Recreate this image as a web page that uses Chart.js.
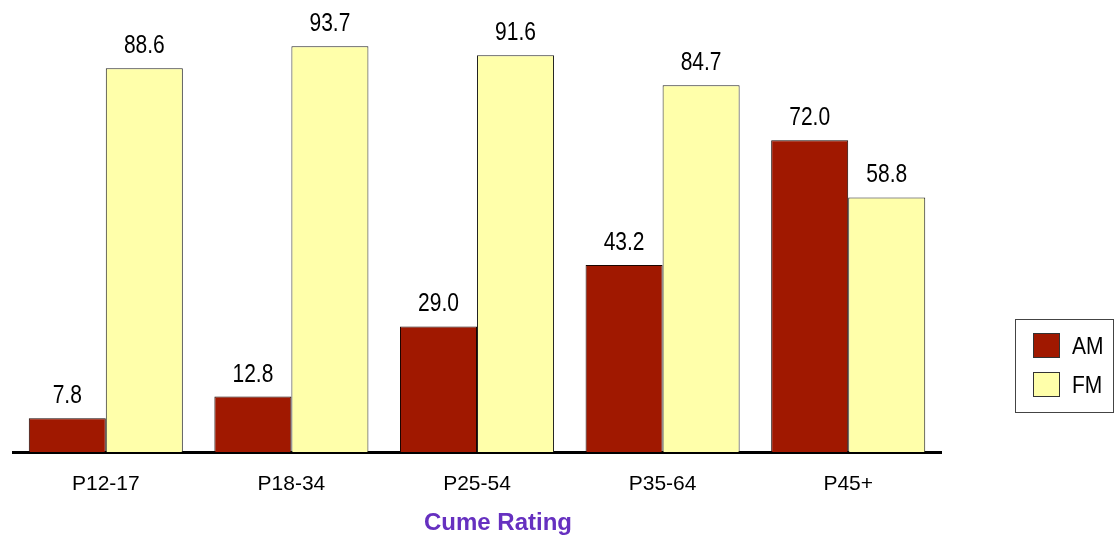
<!DOCTYPE html>
<html>
<head>
<meta charset="utf-8">
<script src="https://cdn.jsdelivr.net/npm/chart.js@4/dist/chart.umd.min.js"></script>
<style>
html,body{margin:0;padding:0;background:#fff;}
#wrap{width:1116px;height:540px;position:relative;}
</style>
</head>
<body>
<div id="wrap"><canvas id="c" width="1116" height="540"></canvas></div>
<script>
const categories = ["P12-17", "P18-34", "P25-54", "P35-64", "P45+"];
const amValues = [7.8, 12.8, 29.0, 43.2, 72.0];
const fmValues = [88.6, 93.7, 91.6, 84.7, 58.8];
const seriesNames = ["AM", "FM"];
const axisTitle = "Cume Rating";

const FONT = '"Liberation Sans", Arial, sans-serif';

const valueLabels = {
  id: 'valueLabels',
  afterDatasetsDraw(chart) {
    const ctx = chart.ctx;
    ctx.save();
    ctx.fillStyle = '#000';
    ctx.font = '21px ' + FONT;
    ctx.textAlign = 'center';
    ctx.textBaseline = 'alphabetic';
    chart.data.datasets.forEach((ds, i) => {
      const meta = chart.getDatasetMeta(i);
      meta.data.forEach((el, j) => {
        const v = ds.data[j];
        ctx.save();
        ctx.translate(el.x, el.y - 15);
        ctx.scale(1, 1.22);
        ctx.fillText(v.toFixed(1), 0, 0);
        ctx.restore();
      });
    });
    ctx.restore();
  }
};

const extras = {
  id: 'extras',
  afterDraw(chart) {
    const ctx = chart.ctx;
    ctx.save();
    // axis title
    ctx.fillStyle = '#6630C0';
    ctx.font = 'bold 24px ' + FONT;
    ctx.textAlign = 'center';
    ctx.textBaseline = 'alphabetic';
    ctx.fillText(axisTitle, 498, 530);
    // legend
    ctx.strokeStyle = '#444';
    ctx.lineWidth = 1;
    ctx.fillStyle = '#fff';
    ctx.fillRect(1015, 319, 98, 93);
    ctx.strokeRect(1015.5, 319.5, 98, 93);
    chart.data.datasets.forEach((ds, i) => {
      const y = 333 + i * 39;
      ctx.fillStyle = ds.backgroundColor;
      ctx.fillRect(1033, y, 27, 25);
      ctx.strokeStyle = '#333';
      ctx.strokeRect(1033.5, y + 0.5, 26, 24);
      ctx.fillStyle = '#000';
      ctx.font = '21px ' + FONT;
      ctx.textAlign = 'left';
      ctx.save();
      ctx.translate(1072, y + 21);
      ctx.scale(1, 1.1);
      ctx.fillText(ds.label, 0, 0);
      ctx.restore();
    });
    ctx.restore();
  }
};

new Chart(document.getElementById('c'), {
  type: 'bar',
  data: {
    labels: categories,
    datasets: [
      { label: seriesNames[0], data: amValues, backgroundColor: '#A01800', borderColor: '#1a0500', borderWidth: 1 },
      { label: seriesNames[1], data: fmValues, backgroundColor: '#FFFFAA', borderColor: '#222', borderWidth: 1 }
    ]
  },
  options: {
    responsive: false,
    animation: false,
    devicePixelRatio: 1,
    layout: { padding: { left: 13, right: 175, top: 19, bottom: 0 } },
    datasets: { bar: { categoryPercentage: 0.83, barPercentage: 1.0 } },
    plugins: { legend: { display: false }, tooltip: { enabled: false } },
    scales: {
      x: {
        grid: { display: false, drawTicks: false },
        border: { display: true, color: '#000', width: 3 },
        ticks: { color: '#000', font: { family: FONT, size: 21 }, padding: 20 },
        afterFit(s) { s.height = 88; }
      },
      y: {
        display: false,
        min: 0, max: 100
      }
    }
  },
  plugins: [valueLabels, extras]
});
</script>
</body>
</html>
